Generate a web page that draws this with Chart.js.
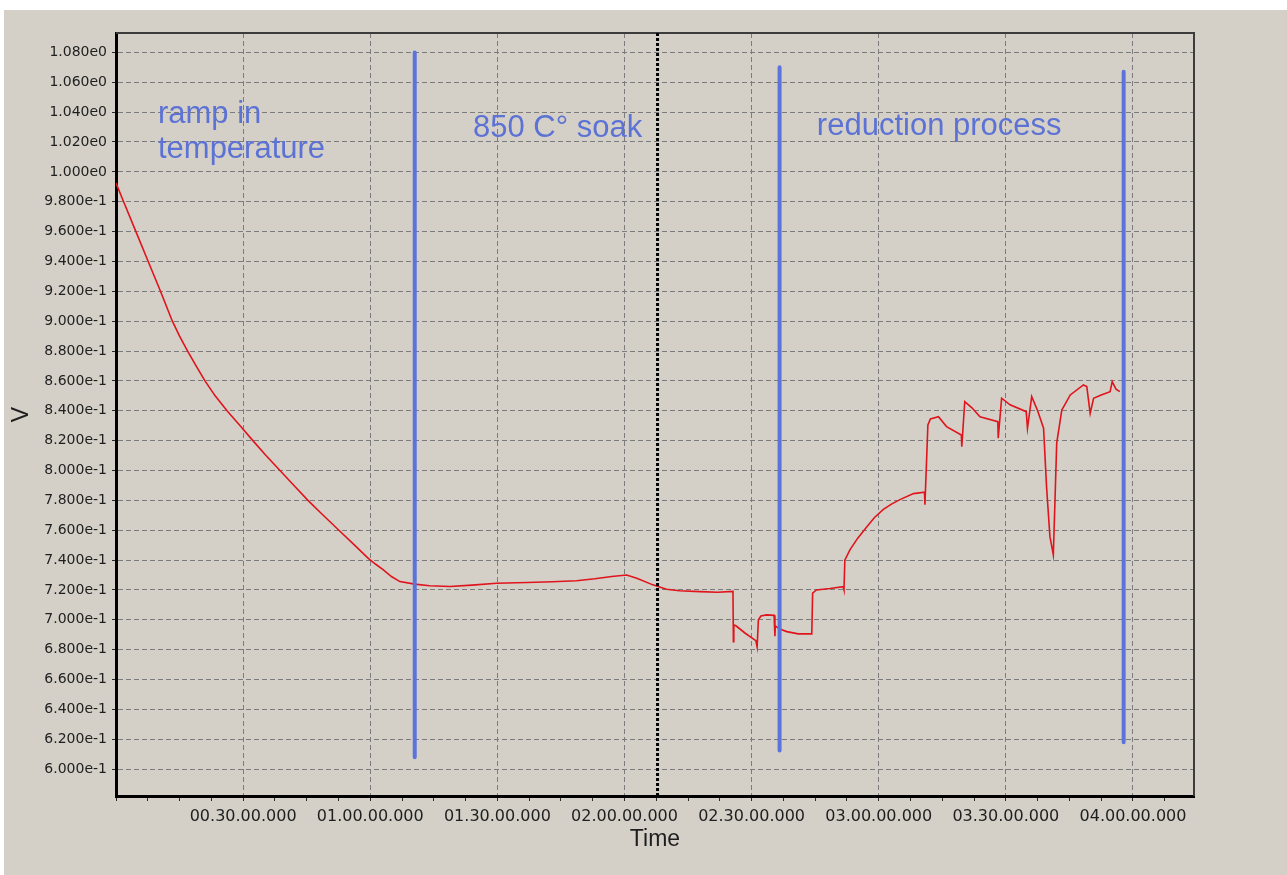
<!DOCTYPE html>
<html>
<head>
<meta charset="utf-8">
<title>V over time</title>
<script src="https://cdn.jsdelivr.net/npm/chart.js@4.4.0/dist/chart.umd.min.js"></script>
<style>
  html, body { margin: 0; padding: 0; background: #ffffff; }
  #wrap { position: absolute; left: 4px; top: 10px; width: 1283px; height: 865px; }
</style>
</head>
<body>
<div id="wrap"><canvas id="chart" width="1283" height="865"></canvas></div>
<script>
"use strict";

// time in minutes since start, voltage in V
const times = [
  0, 1.8, 4.7, 7.6, 10.5, 11.9, 13.3, 15.0, 16.9, 18.9, 21.0, 23.4, 26.2, 29.3,
  32.3, 35.4, 38.7, 42.0, 45.3, 48.9, 52.6, 56.3, 59.6, 61.3, 63.1, 65.0, 67.0,
  70.5, 74.0, 78.8, 84.0, 89.8, 97.0, 103.0, 108.7, 113.0, 117.0,
  120.5, 122.9, 126.7, 129.9, 133.0, 137.8, 142.0, 145.6, 145.7, 145.8, 146.3,
  148.5, 151.0, 151.3, 151.6, 152.2, 153.5, 155.3, 155.5, 155.6, 156.5, 158.3,
  161.0, 164.2, 164.4, 165.3, 168.5, 171.6, 171.8, 172.0, 173.2, 175.0, 177.2,
  179.0, 181.1, 183.0, 185.0, 188.2, 190.8, 190.9, 191.6, 192.2, 194.1, 196.0,
  199.5, 199.6, 200.3, 202.0, 203.9, 208.1, 208.2, 209.0, 211.0, 214.8, 215.1,
  216.1, 217.5, 218.9, 219.6, 220.4, 221.2, 221.6, 222.0, 223.2, 225.2, 228.3,
  229.1, 229.9, 230.7, 232.5, 234.6, 235.1, 236.0, 236.9
];
const volts = [
  0.9925, 0.980, 0.960, 0.940, 0.920, 0.910, 0.900, 0.890, 0.880, 0.870, 0.860, 0.850, 0.840, 0.830,
  0.820, 0.810, 0.800, 0.790, 0.780, 0.770, 0.760, 0.750, 0.741, 0.7372, 0.7334, 0.7290, 0.7256,
  0.7239, 0.7228, 0.7223, 0.7232, 0.7245, 0.7250, 0.7255, 0.7262, 0.7275, 0.7290,
  0.7300, 0.7279, 0.7234, 0.7205, 0.7195, 0.7189, 0.7185, 0.7190, 0.6854, 0.6966, 0.6960,
  0.6910, 0.6860, 0.6817, 0.7000, 0.7025, 0.7033, 0.7030, 0.6890, 0.6960, 0.6940, 0.6921,
  0.6906, 0.6906, 0.7178, 0.7200, 0.7210, 0.7222, 0.7200, 0.7400, 0.7468, 0.7545, 0.7624,
  0.7685, 0.7740, 0.7775, 0.7805, 0.7845, 0.7855, 0.7770, 0.8305, 0.8345, 0.8360, 0.8294,
  0.8238, 0.8160, 0.8461, 0.8420, 0.8360, 0.8327, 0.8216, 0.8484, 0.8440, 0.8394, 0.8283,
  0.8495, 0.8400, 0.8283, 0.7892, 0.7557, 0.7435, 0.7803, 0.8183, 0.8405, 0.8506, 0.8573,
  0.8562, 0.8383, 0.8484, 0.8505, 0.8528, 0.8595, 0.8545, 0.8528
];

// blue phase separators drawn by hand on the plot
const phaseTimes = [70.5, 156.6, 237.8];
const phaseTops = [1.080, 1.070, 1.067];
const phaseBottoms = [0.608, 0.6125, 0.618];

// dotted cursor line
const cursorTime = 127.8;

const xMin = 0;
const xMax = 254.4;
const yMin = 0.582;
const yMax = 1.093;

const notes = [
  { lines: ["ramp in", "temperature"], t: 9.9, v: 1.0324 },
  { lines: ["850 C° soak"], t: 84.25, v: 1.0233 },
  { lines: ["reduction process"], t: 165.4, v: 1.0247 }
];

function pad2(n) {
  return String(n).padStart(2, "0");
}

function formatTime(value) {
  if (value === 0 || value % 30 !== 0) {
    return "";
  }
  const h = Math.floor(value / 60);
  const m = value % 60;
  return pad2(h) + "." + pad2(m) + ".00.000";
}

function formatVolt(value) {
  return value.toExponential(3).replace("e+", "e");
}

const backdrop = {
  id: "backdrop",
  beforeDraw(chart) {
    const ctx = chart.ctx;
    ctx.save();
    ctx.fillStyle = "#d4d0c8";
    ctx.fillRect(0, 0, chart.width, chart.height);
    ctx.restore();
  },
  beforeDatasetsDraw(chart) {
    const { ctx, chartArea } = chart;
    ctx.save();
    ctx.strokeStyle = "#3c3c3c";
    ctx.lineWidth = 2;
    ctx.beginPath();
    ctx.moveTo(chartArea.left, chartArea.top);
    ctx.lineTo(chartArea.right, chartArea.top);
    ctx.lineTo(chartArea.right, chartArea.bottom);
    ctx.stroke();
    ctx.restore();
  }
};

const notesPlugin = {
  id: "notes",
  afterDatasetsDraw(chart) {
    const { ctx, scales } = chart;
    ctx.save();
    ctx.fillStyle = "#5c72d4";
    ctx.font = "31px 'Liberation Sans', Arial, sans-serif";
    ctx.textBaseline = "alphabetic";
    notes.forEach((note) => {
      const x = scales.x.getPixelForValue(note.t);
      let y = scales.y.getPixelForValue(note.v);
      note.lines.forEach((line) => {
        ctx.fillText(line, x, y);
        y += 35;
      });
    });
    ctx.restore();
  }
};

const datasets = [];
phaseTimes.forEach((t, i) => {
  datasets.push({
    data: [{ x: t, y: phaseTops[i] }, { x: t, y: phaseBottoms[i] }],
    borderColor: "#5a74dc",
    borderWidth: 4,
    borderCapStyle: "round",
    pointRadius: 0
  });
});
datasets.push({
  data: [{ x: cursorTime, y: yMin }, { x: cursorTime, y: yMax }],
  borderColor: "#000000",
  borderWidth: 3,
  borderDash: [3, 2],
  pointRadius: 0
});
datasets.push({
  data: times.map((t, i) => ({ x: t, y: volts[i] })),
  borderColor: "#e0141c",
  borderWidth: 1.6,
  pointRadius: 0,
  tension: 0
});

const ctx = document.querySelector("#chart").getContext("2d");
const chart = new Chart(ctx, {
  type: "line",
  data: { datasets: datasets },
  plugins: [backdrop, notesPlugin],
  options: {
    responsive: false,
    animation: false,
    layout: { padding: { top: 23, right: 93, bottom: 20, left: 0 } },
    plugins: {
      legend: { display: false },
      tooltip: { enabled: false }
    },
    scales: {
      x: {
        type: "linear",
        min: xMin,
        max: xMax,
        afterFit: (scale) => { scale.height = 59; },
        ticks: {
          stepSize: 7.5,
          includeBounds: false,
          autoSkip: false,
          maxRotation: 0,
          padding: 6,
          color: "#1e1e1e",
          font: { family: "'DejaVu Sans'", size: 16 },
          callback: formatTime
        },
        grid: {
          color: (c) => (c.tick && c.tick.value % 30 === 0 ? "#7c7c7c" : "rgba(0,0,0,0)"),
          tickColor: "#2a2a2a",
          tickLength: 5,
          lineWidth: 1
        },
        border: { color: "#000000", width: 3, dash: [5, 3] },
        title: {
          display: true,
          text: "Time",
          color: "#1e1e1e",
          font: { family: "'Liberation Sans'", size: 23 },
          padding: { top: 2, bottom: 2 }
        }
      },
      y: {
        min: yMin,
        max: yMax,
        afterFit: (scale) => { scale.width = 112; },
        ticks: {
          stepSize: 0.02,
          includeBounds: false,
          autoSkip: false,
          padding: 5,
          color: "#1e1e1e",
          font: { family: "'DejaVu Sans'", size: 14 },
          callback: formatVolt
        },
        grid: {
          color: "#7c7c7c",
          tickColor: "#2a2a2a",
          tickLength: 4,
          lineWidth: 1
        },
        border: { color: "#000000", width: 3, dash: [5, 3] },
        title: {
          display: true,
          text: "V",
          color: "#1e1e1e",
          font: { family: "'Liberation Sans'", size: 23 },
          padding: { top: 4, bottom: 4 }
        }
      }
    }
  }
});
</script>
</body>
</html>
